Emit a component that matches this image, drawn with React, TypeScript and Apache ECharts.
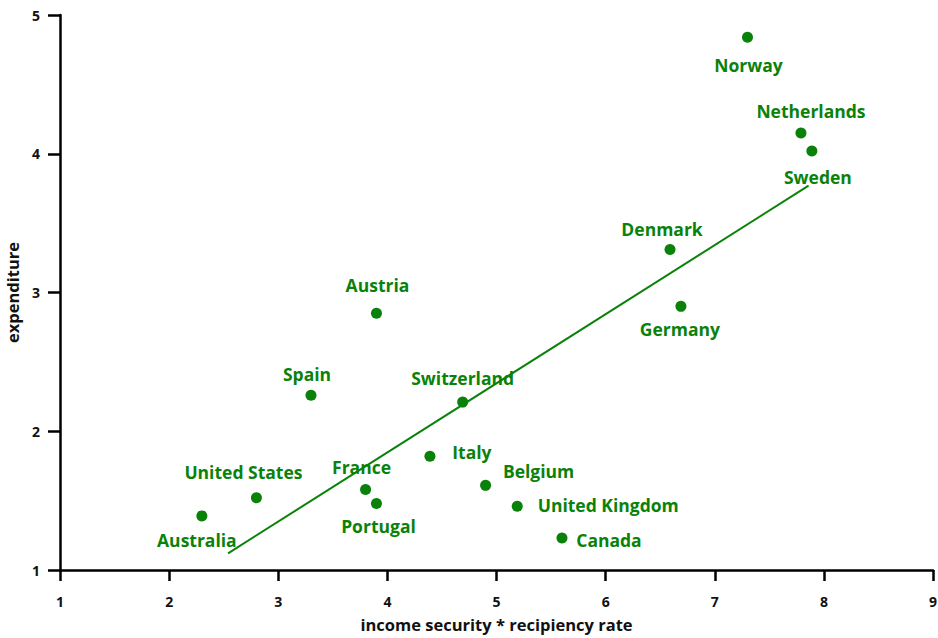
import React, { useEffect, useRef } from "react";
import * as echarts from "echarts";

const countries = ["Norway", "Netherlands", "Sweden", "Denmark", "Germany", "Austria", "Spain", "Switzerland", "Italy", "Belgium", "United Kingdom", "Canada", "France", "Portugal", "United States", "Australia"];
const incomeSecurity = [7.3, 7.79, 7.89, 6.59, 6.69, 3.9, 3.3, 4.69, 4.39, 4.9, 5.19, 5.6, 3.8, 3.9, 2.8, 2.3];
const expenditure = [4.84, 4.15, 4.02, 3.31, 2.9, 2.85, 2.26, 2.21, 1.82, 1.61, 1.46, 1.23, 1.58, 1.48, 1.52, 1.39];
const labelOffsets: number[][] = [
  [1, 28], [10, -22], [6, 26], [-8, -20], [-1, 23], [1, -28], [-4, -21], [0, -24],
  [42, -4], [53, -14], [91, -1], [47, 2], [-4, -23], [2, 23], [-13, -26], [-5, 24],
];
const fitX = [2.54, 7.86];
const fitY = [1.12, 3.77];
const xTicks = [1, 2, 3, 4, 5, 6, 7, 8, 9];
const yTicks = [1, 2, 3, 4, 5];

const GREEN = "#0a820a";
const FONT = "'Open Sans', Lato, sans-serif";
const SYM = 11;

export default function App() {
  const ref = useRef<HTMLDivElement>(null);
  useEffect(() => {
    if (!ref.current) return;
    const chart = echarts.init(ref.current, null, { renderer: "svg" });
    const pts = countries.map((c, i) => ({
      name: c,
      value: [incomeSecurity[i], expenditure[i]],
      label: {
        show: true,
        position: [SYM / 2 + labelOffsets[i][0], SYM / 2 + labelOffsets[i][1]],
        align: "center",
        verticalAlign: "middle",
      },
    }));
    chart.setOption({
      animation: false,
      grid: { left: 60, right: 5, top: 15, bottom: 68, containLabel: false, outerBoundsMode: "none" },
      xAxis: {
        type: "value",
        min: xTicks[0],
        max: xTicks[xTicks.length - 1],
        interval: 1,
        name: "income security * recipiency rate",
        nameLocation: "middle",
        nameGap: 46,
        nameTextStyle: { fontFamily: FONT, fontWeight: "bold", fontSize: 16.5, color: "#111" },
        axisLine: { show: true, lineStyle: { color: "#000", width: 2.5 } },
        axisTick: { show: true, length: 11, lineStyle: { color: "#000", width: 2.5 } },
        axisLabel: { margin: 24, fontFamily: FONT, fontWeight: "bold", fontSize: 14, color: "#111" },
        splitLine: { show: false },
      },
      yAxis: {
        type: "value",
        min: yTicks[0],
        max: yTicks[yTicks.length - 1],
        interval: 1,
        name: "expenditure",
        nameLocation: "middle",
        nameGap: 35,
        nameTextStyle: { fontFamily: FONT, fontWeight: "bold", fontSize: 16.5, color: "#111" },
        axisLine: { show: true, lineStyle: { color: "#000", width: 2.5 } },
        axisTick: { show: true, length: 12, lineStyle: { color: "#000", width: 2.5 } },
        axisLabel: { margin: 20, fontFamily: FONT, fontWeight: "bold", fontSize: 14, color: "#111" },
        splitLine: { show: false },
      },
      series: [
        {
          type: "line",
          data: fitX.map((x, i) => [x, fitY[i]]),
          symbol: "none",
          lineStyle: { color: GREEN, width: 2 },
          silent: true,
        },
        {
          type: "scatter",
          data: pts,
          symbolSize: SYM,
          itemStyle: { color: GREEN, opacity: 1 },
          label: {
            show: true,
            formatter: "{b}",
            fontFamily: FONT,
            fontWeight: "bold",
            fontSize: 17.5,
            color: GREEN,
          },
          labelLayout: { hideOverlap: false },
        },
      ],
    });
    return () => chart.dispose();
  }, []);
  return <div ref={ref} style={{ width: 938, height: 638, position: "absolute", left: 0, top: 0 }} />;
}
